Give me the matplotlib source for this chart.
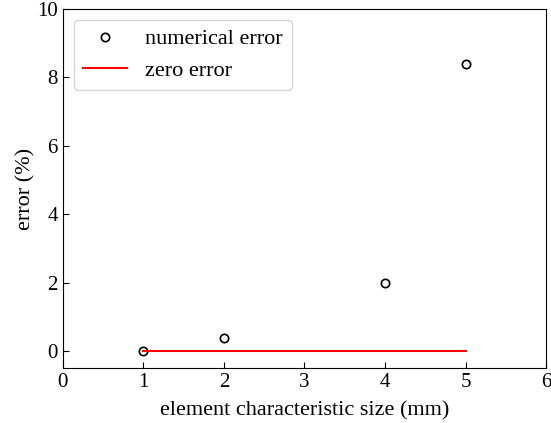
import matplotlib.pyplot as plt

plt.rcParams['font.family'] = ['Liberation Serif', 'DejaVu Serif']
plt.rcParams['mathtext.fontset'] = 'stix'

# element size (mm) vs. relative error (%)
sizes = [1, 2, 4, 5]
errors = [0.0, 0.37, 2.0, 8.38]
zero_x = [1, 5]
zero_y = [0, 0]

fig = plt.figure(figsize=(5.51, 4.23), dpi=100)
ax = fig.add_axes([0.114, 0.130, 0.877, 0.849])

ax.plot(sizes, errors, 'o', mfc='none', mec='black', ms=6, mew=1.2, label='numerical error')
ax.plot(zero_x, zero_y, '-', color='red', lw=1.5, label='zero error')

ax.set_xlim(0, 6)
ax.set_ylim(-0.5, 10)
ax.set_xticks(range(0, 7))
ax.set_yticks(range(0, 11, 2))
ax.tick_params(direction='in', labelsize=15, length=4)
ax.set_xlabel('element characteristic size (mm)', fontsize=16, labelpad=7)
ax.set_ylabel('error (%)', fontsize=16, labelpad=1)
ax.legend(loc='upper left', fontsize=16)

fig.savefig('out.png', dpi=100)
